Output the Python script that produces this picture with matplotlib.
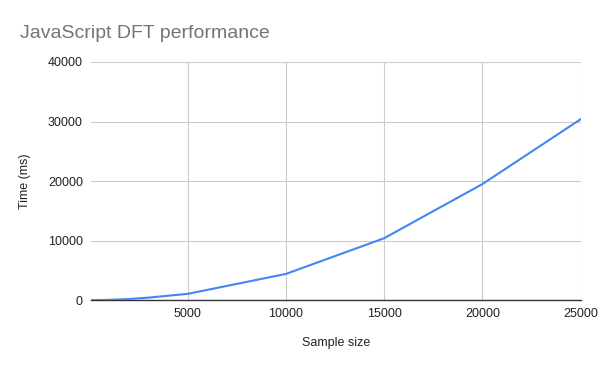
import matplotlib.pyplot as plt

plt.rcParams['font.family'] = ['Liberation Sans', 'DejaVu Sans']

# sample size vs time (ms)
sizes = [100, 1000, 2000, 3000, 5000, 10000, 15000, 20000, 25000]
times = [0, 50, 180, 420, 1050, 4400, 10400, 19500, 30400]
xticks = [5000, 10000, 15000, 20000, 25000]
yticks = [0, 10000, 20000, 30000, 40000]

fig = plt.figure(figsize=(6, 3.71), dpi=100)
ax = fig.add_axes([0.152, 0.191, 0.816, 0.642])

ax.plot(sizes, times, color='#4285F4', linewidth=1.5, zorder=3)

ax.set_xlim(100, 25000)
ax.set_ylim(0, 40000)
ax.set_xticks(xticks)
ax.set_yticks(yticks)
ax.grid(True, color='#cccccc', linewidth=0.8)
ax.tick_params(length=0, labelsize=9, labelcolor='#222222', pad=6)

for s in ['top', 'right', 'left']:
    ax.spines[s].set_visible(False)
ax.spines['bottom'].set_color('#333333')
ax.spines['bottom'].set_linewidth(1)

ax.set_xlabel('Sample size', fontsize=9, color='#222222', labelpad=12)
ax.set_ylabel('Time (ms)', fontsize=9, color='#222222', labelpad=12)

fig.text(0.033, 0.91, 'JavaScript DFT performance', fontsize=14, color='#757575',
         va='center', ha='left')

fig.savefig('out.png', dpi=100)
